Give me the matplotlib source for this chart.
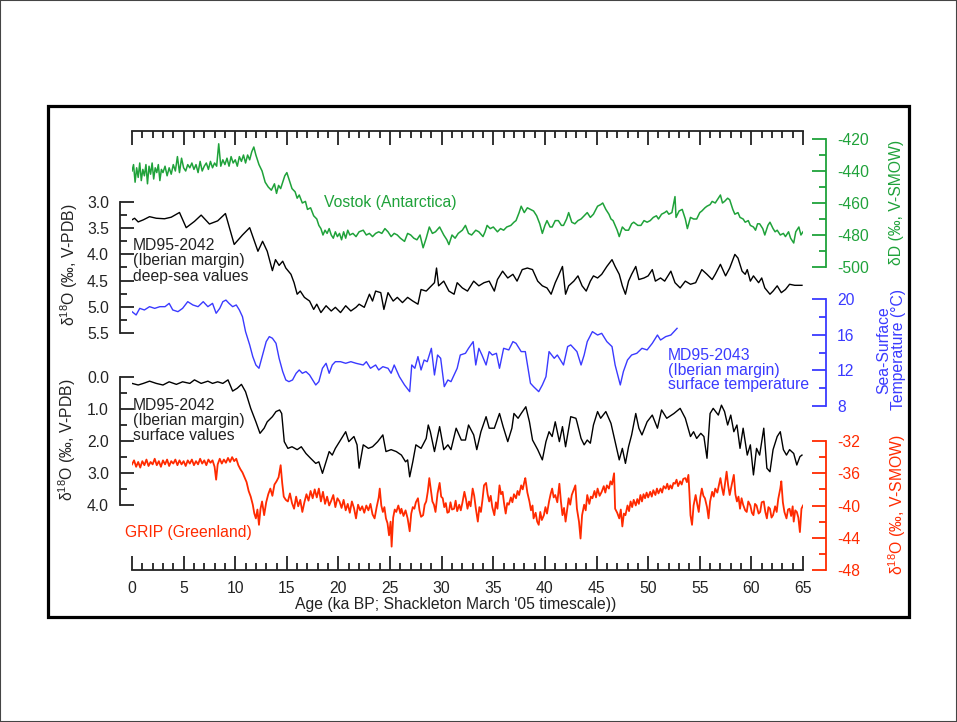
"""Stacked palaeoclimate records, 0-65 ka (Vostok, MD95-2042/2043, GRIP)."""

import matplotlib
matplotlib.use("Agg")
import matplotlib.pyplot as plt
import numpy as np
from matplotlib.patches import Rectangle

plt.rcParams["font.family"] = ["Liberation Sans", "DejaVu Sans"]
plt.rcParams["mathtext.default"] = "regular"

# --- data (age ka BP, value) ---
vostok = [
    (0.0, -440), (0.15, -436), (0.3, -447), (0.45, -438), (0.6, -444), (0.75, -435), (0.9, -446),
    (1.05, -439), (1.2, -443), (1.35, -436), (1.5, -448), (1.65, -437), (1.8, -442), (1.95, -435),
    (2.1, -445), (2.25, -438), (2.4, -441), (2.55, -436), (2.7, -446), (2.85, -439), (3.0, -441),
    (3.2, -437), (3.4, -443), (3.6, -438), (3.8, -442), (4.0, -436), (4.2, -440), (4.4, -431),
    (4.6, -441), (4.8, -432), (5.0, -438), (5.2, -440), (5.4, -436), (5.6, -438), (5.8, -435),
    (6.0, -439), (6.2, -436), (6.4, -441), (6.6, -434), (6.8, -440), (7.0, -437), (7.2, -435),
    (7.4, -439), (7.6, -434), (7.8, -438), (8.0, -435), (8.2, -437), (8.4, -423), (8.6, -437),
    (8.8, -433), (9.0, -436), (9.2, -432), (9.4, -437), (9.6, -431), (9.8, -435), (10.0, -433),
    (10.2, -437), (10.4, -431), (10.6, -434), (10.8, -430), (11.0, -435), (11.2, -430), (11.4, -433),
    (11.6, -428), (11.8, -425), (12.0, -430), (12.3, -436), (12.6, -440), (12.9, -447), (13.2, -450),
    (13.5, -452), (13.8, -448), (14.0, -454), (14.2, -449), (14.4, -451), (14.6, -447), (14.8, -443),
    (15.0, -441), (15.2, -445), (15.5, -451), (15.8, -453), (16.0, -457), (16.2, -455), (16.5, -460),
    (16.8, -459), (17.0, -464), (17.3, -463), (17.6, -468), (17.9, -470), (18.1, -474), (18.3, -476),
    (18.5, -480), (18.7, -477), (18.9, -479), (19.1, -476), (19.3, -480), (19.5, -482), (19.7, -478),
    (19.9, -481), (20.1, -479), (20.3, -483), (20.5, -478), (20.7, -482), (20.9, -477), (21.1, -480),
    (21.4, -479), (21.7, -481), (22.0, -478), (22.4, -477), (22.7, -480), (23.0, -479), (23.3, -481),
    (23.6, -479), (23.9, -478), (24.2, -479), (24.5, -476), (24.8, -478), (25.1, -481), (25.4, -479),
    (25.7, -480), (26.0, -482), (26.4, -484), (26.7, -479), (27.0, -480), (27.3, -482), (27.6, -483),
    (27.9, -480), (28.2, -488), (28.5, -482), (28.8, -475), (29.1, -479), (29.4, -478), (29.8, -475),
    (30.2, -480), (30.5, -483), (30.7, -486), (31.0, -480), (31.3, -482), (31.6, -479), (32.0, -477),
    (32.3, -474), (32.6, -479), (32.9, -480), (33.3, -477), (33.6, -478), (34.0, -481), (34.2, -478),
    (34.4, -474), (34.7, -476), (35.0, -475), (35.4, -478), (35.7, -476), (36.0, -477), (36.3, -475),
    (36.7, -474), (37.0, -472), (37.2, -471), (37.5, -466), (37.7, -462), (38.0, -466), (38.3, -463),
    (38.6, -464), (38.9, -465), (39.2, -468), (39.5, -473), (39.75, -479), (40.0, -474), (40.2, -471),
    (40.5, -475), (40.7, -475), (41.0, -471), (41.3, -471), (41.6, -474), (41.8, -474), (42.1, -470),
    (42.3, -466), (42.6, -472), (42.9, -473), (43.2, -471), (43.5, -470), (43.8, -468), (44.1, -466),
    (44.4, -469), (44.7, -467), (45.1, -462), (45.4, -461), (45.6, -460), (45.9, -464), (46.2, -467),
    (46.4, -470), (46.6, -471), (46.8, -474), (47.0, -477), (47.2, -481), (47.5, -475), (47.8, -477),
    (48.1, -477), (48.4, -473), (48.6, -472), (49.0, -474), (49.3, -474), (49.6, -471), (49.9, -472),
    (50.2, -471), (50.5, -469), (50.8, -468), (51.0, -470), (51.3, -467), (51.6, -466), (51.8, -465),
    (52.0, -467), (52.3, -466), (52.6, -456), (52.7, -469), (53.0, -465), (53.3, -464), (53.6, -470),
    (53.8, -476), (54.1, -469), (54.4, -470), (54.7, -470), (55.0, -466), (55.2, -465), (55.5, -463),
    (55.7, -462), (56.0, -461), (56.2, -459), (56.5, -460), (56.7, -458), (57.0, -455), (57.2, -460),
    (57.4, -459), (57.7, -457), (57.9, -458), (58.2, -464), (58.4, -467), (58.7, -466), (58.9, -469),
    (59.2, -470), (59.4, -472), (59.7, -471), (59.9, -474), (60.2, -475), (60.4, -477), (60.6, -473),
    (60.8, -473), (61.1, -476), (61.3, -480), (61.6, -474), (61.8, -472), (62.1, -476), (62.3, -478),
    (62.5, -477), (62.8, -480), (63.1, -479), (63.3, -481), (63.6, -478), (63.8, -482), (64.1, -485),
    (64.3, -478), (64.6, -475), (64.8, -480), (65.0, -478),
]

deep_sea = [
    (0.0, 3.34), (0.25, 3.31), (0.6, 3.38), (1.1, 3.34), (1.7, 3.28), (2.35, 3.31), (3.15, 3.32),
    (3.8, 3.29), (4.6, 3.20), (5.25, 3.49), (6.05, 3.37), (6.7, 3.25), (7.5, 3.42), (8.3, 3.36),
    (9.05, 3.22), (9.9, 3.81), (10.7, 3.63), (11.4, 3.49), (12.2, 3.94), (12.65, 3.75), (13.1, 3.94),
    (13.6, 4.31), (13.9, 4.10), (14.25, 4.21), (14.6, 4.13), (14.9, 4.26), (15.4, 4.38), (15.7, 4.54),
    (16.0, 4.76), (16.3, 4.70), (16.7, 4.82), (17.2, 4.89), (17.6, 5.05), (17.9, 4.95), (18.3, 5.11),
    (18.8, 4.98), (19.3, 5.08), (19.7, 5.01), (20.2, 5.11), (20.7, 4.98), (21.2, 5.08), (21.7, 5.01),
    (22.0, 4.95), (22.5, 5.01), (23.0, 4.76), (23.3, 4.89), (23.6, 4.70), (24.1, 4.73), (24.4, 5.05),
    (24.8, 4.73), (25.3, 4.89), (25.7, 4.82), (26.2, 4.92), (26.7, 4.82), (27.2, 4.89), (27.7, 4.95),
    (28.0, 4.67), (28.5, 4.70), (29.0, 4.60), (29.3, 4.54), (29.5, 4.26), (29.7, 4.60), (30.2, 4.51),
    (30.7, 4.70), (31.2, 4.76), (31.5, 4.54), (32.0, 4.64), (32.5, 4.70), (33.1, 4.51), (33.6, 4.60),
    (34.1, 4.54), (34.6, 4.51), (35.1, 4.70), (35.4, 4.48), (35.9, 4.32), (36.4, 4.45), (36.9, 4.38),
    (37.3, 4.51), (37.8, 4.29), (38.3, 4.26), (38.8, 4.29), (39.3, 4.51), (39.75, 4.60), (40.2, 4.64),
    (40.6, 4.76), (41.0, 4.54), (41.3, 4.41), (41.7, 4.23), (42.0, 4.76), (42.3, 4.60), (42.8, 4.51),
    (43.2, 4.41), (43.6, 4.60), (44.0, 4.70), (44.4, 4.51), (44.7, 4.41), (45.1, 4.45), (45.5, 4.38),
    (46.0, 4.23), (46.5, 4.10), (46.8, 4.23), (47.2, 4.38), (47.5, 4.60), (47.8, 4.76), (48.1, 4.51),
    (48.4, 4.38), (48.8, 4.23), (49.1, 4.48), (49.6, 4.45), (50.0, 4.41), (50.4, 4.29), (50.7, 4.51),
    (51.2, 4.45), (51.6, 4.51), (52.2, 4.32), (52.6, 4.54), (53.1, 4.64), (53.6, 4.51), (54.1, 4.57),
    (54.6, 4.54), (55.2, 4.29), (55.7, 4.38), (56.2, 4.48), (56.5, 4.38), (57.0, 4.19), (57.5, 4.41),
    (57.9, 4.26), (58.4, 4.00), (58.7, 4.07), (59.1, 4.32), (59.4, 4.38), (59.6, 4.29), (59.9, 4.51),
    (60.2, 4.41), (60.7, 4.54), (61.0, 4.45), (61.3, 4.64), (61.8, 4.76), (62.1, 4.70), (62.5, 4.60),
    (62.9, 4.73), (63.3, 4.67), (63.7, 4.57), (64.2, 4.59), (64.9, 4.59),
]

sst = [
    (0.0, 18.58), (0.4, 18.21), (0.75, 18.95), (1.2, 18.77), (1.7, 19.14), (2.2, 18.95), (2.7, 19.14),
    (3.2, 19.14), (3.6, 19.51), (3.95, 18.77), (4.45, 18.58), (4.9, 18.95), (5.4, 19.70), (5.9, 19.33),
    (6.4, 19.14), (6.9, 19.70), (7.35, 19.14), (7.8, 19.51), (8.15, 18.40), (8.5, 18.95), (8.8, 19.70),
    (9.1, 19.88), (9.4, 19.51), (9.75, 19.14), (10.1, 19.33), (10.4, 18.77), (10.7, 18.02), (11.0, 16.34),
    (11.4, 14.85), (11.7, 13.54), (12.0, 12.60), (12.3, 12.23), (12.65, 13.72), (13.0, 15.22),
    (13.3, 15.78), (13.6, 15.60), (13.95, 15.03), (14.25, 13.35), (14.6, 11.86), (14.9, 10.92),
    (15.2, 10.73), (15.55, 10.92), (15.9, 11.67), (16.2, 12.04), (16.5, 11.67), (16.85, 11.86),
    (17.2, 11.48), (17.5, 10.92), (17.8, 10.36), (18.1, 10.73), (18.45, 12.23), (18.8, 12.79),
    (19.1, 11.67), (19.4, 12.60), (19.7, 12.97), (20.2, 12.97), (20.7, 12.79), (21.2, 12.97),
    (21.7, 12.79), (22.4, 12.60), (22.7, 12.97), (23.1, 12.23), (23.6, 12.60), (23.9, 12.04),
    (24.3, 12.41), (24.8, 12.23), (25.1, 11.67), (25.4, 12.60), (25.9, 11.29), (26.4, 10.36),
    (26.9, 9.61), (27.1, 12.60), (27.4, 12.23), (27.7, 13.54), (28.0, 12.04), (28.3, 13.16),
    (28.6, 12.97), (29.0, 14.47), (29.3, 11.48), (29.6, 13.72), (29.9, 13.35), (30.25, 10.17),
    (30.6, 10.92), (30.9, 10.73), (31.2, 11.48), (31.5, 12.23), (31.8, 13.72), (32.3, 13.91),
    (32.6, 14.47), (33.05, 15.22), (33.3, 12.60), (33.6, 14.47), (33.9, 13.72), (34.3, 12.60),
    (34.6, 14.10), (34.9, 13.72), (35.3, 13.91), (35.6, 12.23), (36.0, 14.47), (36.5, 14.29),
    (36.9, 15.22), (37.2, 15.03), (37.7, 14.10), (38.1, 14.10), (38.6, 10.55), (38.9, 10.17),
    (39.4, 9.61), (39.75, 10.36), (40.1, 11.29), (40.4, 14.10), (40.9, 13.35), (41.2, 13.72),
    (41.5, 13.16), (41.8, 12.60), (42.2, 14.66), (42.5, 14.85), (42.8, 14.47), (43.1, 14.10),
    (43.5, 12.60), (43.8, 13.72), (44.1, 15.22), (44.6, 16.34), (45.1, 15.96), (45.5, 16.15),
    (46.0, 15.22), (46.5, 14.66), (46.8, 12.60), (47.3, 10.36), (47.6, 11.86), (48.0, 13.16),
    (48.4, 13.72), (48.9, 13.91), (49.4, 14.47), (49.9, 14.29), (50.4, 15.03), (50.9, 15.96),
    (51.2, 15.40), (51.7, 15.78), (52.2, 15.96), (52.8, 16.71),
]

surface = [
    (0.0, 0.20), (0.6, 0.25), (1.1, 0.20), (1.7, 0.13), (2.35, 0.20), (3.0, 0.25), (3.6, 0.15),
    (4.3, 0.23), (4.9, 0.15), (5.6, 0.20), (6.05, 0.09), (6.7, 0.20), (7.35, 0.13), (7.8, 0.20),
    (8.3, 0.15), (8.8, 0.20), (9.3, 0.09), (9.75, 0.44), (10.2, 0.35), (10.6, 0.23), (11.0, 0.46),
    (11.5, 0.98), (12.0, 1.40), (12.4, 1.76), (12.8, 1.60), (13.1, 1.40), (13.6, 1.24), (13.95, 1.08),
    (14.3, 1.03), (14.5, 1.14), (14.75, 2.02), (15.1, 2.23), (15.5, 2.18), (16.0, 2.27), (16.4, 2.18),
    (16.85, 2.39), (17.3, 2.54), (17.8, 2.70), (18.1, 2.65), (18.45, 3.01), (18.8, 2.65), (19.1, 2.33),
    (19.4, 2.44), (19.7, 2.23), (20.2, 1.97), (20.7, 1.71), (21.0, 2.02), (21.5, 1.86), (21.8, 2.12),
    (22.0, 2.85), (22.4, 2.12), (22.9, 2.23), (23.3, 2.18), (23.8, 2.02), (24.3, 1.81), (24.6, 2.33),
    (25.1, 2.27), (25.6, 2.33), (26.1, 2.44), (26.5, 2.65), (26.7, 2.59), (26.9, 3.12), (27.2, 2.65),
    (27.5, 2.12), (28.0, 2.23), (28.5, 1.92), (28.7, 1.50), (28.9, 1.71), (29.3, 2.33), (29.6, 1.86),
    (29.8, 1.55), (30.2, 2.27), (30.6, 2.12), (30.9, 2.27), (31.4, 1.60), (31.9, 1.97), (32.3, 1.97),
    (32.6, 1.50), (33.1, 1.81), (33.4, 2.27), (33.8, 1.71), (34.3, 1.24), (34.6, 1.60), (35.1, 1.60),
    (35.6, 1.14), (35.95, 1.55), (36.4, 2.02), (36.8, 1.60), (37.0, 1.14), (37.4, 1.29), (37.7, 1.14),
    (38.15, 0.93), (38.5, 1.40), (38.8, 1.97), (39.3, 2.27), (39.75, 2.59), (40.1, 2.02), (40.4, 1.71),
    (40.7, 1.86), (41.0, 1.40), (41.4, 2.02), (41.7, 1.55), (42.0, 2.18), (42.5, 1.24), (43.0, 1.29),
    (43.1, 1.40), (43.5, 1.92), (43.8, 2.12), (44.1, 1.97), (44.4, 2.07), (44.7, 1.50), (45.1, 1.08),
    (45.4, 1.29), (45.9, 1.08), (46.4, 1.45), (46.8, 2.02), (47.2, 2.59), (47.5, 2.23), (47.8, 2.70),
    (48.1, 2.18), (48.4, 1.81), (48.8, 1.14), (49.1, 1.60), (49.4, 1.81), (49.9, 1.40), (50.4, 1.19),
    (50.9, 1.60), (51.3, 1.03), (51.8, 1.29), (52.5, 1.14), (53.1, 0.98), (53.6, 1.29), (54.1, 1.86),
    (54.4, 1.71), (54.7, 1.92), (55.1, 1.76), (55.4, 1.86), (55.7, 2.54), (56.0, 1.14), (56.3, 0.98),
    (56.8, 1.19), (57.1, 0.88), (57.4, 1.08), (57.7, 1.50), (58.0, 1.19), (58.3, 1.71), (58.6, 1.50),
    (58.9, 2.23), (59.2, 1.60), (59.6, 2.44), (59.9, 2.12), (60.2, 3.06), (60.5, 2.23), (60.8, 2.44),
    (61.2, 1.60), (61.5, 2.85), (61.8, 2.96), (62.1, 2.27), (62.5, 1.86), (62.8, 1.71), (63.1, 2.27),
    (63.4, 2.44), (63.7, 2.27), (64.1, 2.39), (64.4, 2.75), (64.7, 2.49), (64.9, 2.44),
]

grip = [
    (0.0, -34.9), (0.2, -34.4), (0.4, -35.2), (0.6, -34.6), (0.8, -35.3), (1.0, -34.5), (1.2, -35.0),
    (1.4, -34.3), (1.6, -35.1), (1.8, -34.6), (2.0, -34.9), (2.2, -34.2), (2.4, -35.0), (2.6, -34.5),
    (2.8, -35.2), (3.0, -34.4), (3.2, -34.9), (3.4, -34.3), (3.6, -35.1), (3.8, -34.5), (4.0, -34.8),
    (4.2, -34.3), (4.4, -35.0), (4.6, -34.4), (4.8, -34.9), (5.0, -34.5), (5.2, -35.1), (5.4, -34.4),
    (5.6, -34.8), (5.8, -34.3), (6.0, -35.0), (6.2, -34.5), (6.4, -34.9), (6.6, -34.2), (6.8, -34.8),
    (7.0, -34.4), (7.2, -35.0), (7.4, -34.3), (7.6, -34.7), (7.8, -34.4), (8.0, -35.2), (8.15, -36.8),
    (8.3, -34.9), (8.5, -34.2), (8.7, -34.8), (8.9, -34.3), (9.1, -34.7), (9.3, -34.1), (9.5, -34.6),
    (9.7, -34.0), (9.9, -34.5), (10.1, -34.2), (10.3, -35.0), (10.5, -35.5), (10.7, -35.9),
    (10.9, -36.5), (11.1, -37.1), (11.3, -38.2), (11.5, -38.9), (11.7, -39.9), (11.85, -41.0),
    (12.0, -41.6), (12.15, -40.5), (12.3, -42.4), (12.45, -40.4), (12.6, -39.5), (12.8, -41.2),
    (13.0, -39.6), (13.2, -38.6), (13.4, -37.9), (13.6, -38.8), (13.8, -37.4), (14.0, -37.0),
    (14.2, -36.5), (14.4, -35.0), (14.55, -37.2), (14.7, -38.9), (14.9, -39.3), (15.1, -39.5),
    (15.3, -38.5), (15.5, -39.7), (15.7, -40.4), (15.9, -38.9), (16.1, -40.1), (16.3, -39.3),
    (16.5, -40.8), (16.7, -39.6), (16.9, -38.6), (17.1, -39.4), (17.3, -38.2), (17.5, -39.1),
    (17.7, -38.0), (17.9, -39.0), (18.1, -37.9), (18.3, -39.5), (18.5, -38.3), (18.7, -39.8),
    (18.9, -38.9), (19.1, -40.0), (19.3, -39.4), (19.5, -38.7), (19.7, -40.2), (19.9, -39.1),
    (20.1, -39.5), (20.3, -40.3), (20.5, -39.3), (20.7, -40.6), (20.9, -39.8), (21.1, -40.9),
    (21.3, -39.5), (21.5, -40.3), (21.7, -41.6), (21.9, -39.9), (22.1, -40.6), (22.3, -40.1),
    (22.5, -40.9), (22.7, -40.0), (22.9, -40.6), (23.1, -39.8), (23.3, -41.1), (23.5, -41.6),
    (23.7, -40.2), (23.9, -39.0), (24.0, -37.9), (24.15, -40.0), (24.3, -40.8), (24.45, -40.2),
    (24.6, -41.6), (24.75, -42.2), (24.9, -43.7), (25.05, -42.0), (25.15, -45.1), (25.3, -41.5),
    (25.45, -40.5), (25.6, -40.8), (25.8, -40.0), (26.0, -41.0), (26.1, -40.4), (26.3, -41.3),
    (26.5, -40.6), (26.7, -41.6), (26.9, -43.2), (27.05, -41.0), (27.2, -40.2), (27.35, -40.4),
    (27.5, -39.6), (27.7, -39.1), (27.85, -40.6), (28.0, -41.4), (28.2, -41.2), (28.35, -39.9),
    (28.5, -39.5), (28.65, -38.3), (28.8, -36.6), (28.95, -38.1), (29.1, -39.5), (29.25, -39.9),
    (29.4, -40.8), (29.6, -38.5), (29.8, -37.2), (29.95, -38.9), (30.1, -39.1), (30.25, -40.2),
    (30.4, -39.7), (30.55, -40.9), (30.7, -40.8), (30.85, -39.6), (31.0, -40.5), (31.2, -40.4),
    (31.35, -39.4), (31.5, -40.7), (31.7, -39.9), (31.85, -40.6), (32.0, -39.7), (32.2, -38.3),
    (32.35, -39.2), (32.5, -40.4), (32.65, -39.5), (32.8, -40.1), (33.0, -37.9), (33.15, -38.8),
    (33.3, -40.3), (33.5, -42.0), (33.65, -40.2), (33.8, -40.8), (33.95, -39.3), (34.1, -37.5),
    (34.3, -37.2), (34.45, -38.6), (34.6, -39.5), (34.75, -38.8), (34.9, -40.2), (35.1, -41.2),
    (35.25, -39.6), (35.4, -40.4), (35.6, -37.5), (35.75, -38.6), (35.9, -38.3), (36.05, -39.8),
    (36.2, -41.0), (36.35, -39.7), (36.5, -39.9), (36.7, -39.0), (36.85, -39.6), (37.0, -38.6),
    (37.2, -39.1), (37.35, -38.2), (37.5, -38.7), (37.7, -37.5), (37.85, -38.0), (38.0, -37.1),
    (38.1, -36.6), (38.3, -38.4), (38.5, -39.5), (38.65, -40.6), (38.8, -40.0), (38.9, -41.6),
    (39.1, -40.9), (39.25, -42.0), (39.4, -42.4), (39.55, -40.8), (39.7, -41.8), (39.9, -41.2),
    (40.05, -40.2), (40.2, -41.0), (40.4, -39.5), (40.55, -38.6), (40.7, -37.9), (40.85, -39.0),
    (41.0, -38.7), (41.2, -39.6), (41.4, -37.3), (41.55, -39.5), (41.7, -41.2), (41.85, -40.3),
    (42.0, -42.0), (42.15, -40.6), (42.3, -39.1), (42.45, -39.9), (42.6, -38.7), (42.8, -38.0),
    (42.95, -37.5), (43.1, -40.4), (43.3, -42.0), (43.45, -44.1), (43.6, -41.2), (43.8, -39.9),
    (43.95, -40.6), (44.1, -38.7), (44.3, -39.8), (44.45, -38.9), (44.6, -39.1), (44.8, -38.2),
    (44.95, -39.0), (45.1, -37.9), (45.3, -38.8), (45.5, -38.3), (45.7, -37.6), (45.85, -38.4),
    (46.0, -37.5), (46.2, -37.9), (46.35, -37.0), (46.5, -37.4), (46.7, -36.0), (46.8, -40.4),
    (47.0, -40.9), (47.2, -41.6), (47.35, -40.5), (47.5, -42.6), (47.65, -41.0), (47.8, -41.2),
    (48.0, -40.0), (48.15, -40.7), (48.3, -39.5), (48.45, -40.2), (48.6, -39.3), (48.8, -40.0),
    (48.95, -39.2), (49.1, -39.8), (49.25, -38.7), (49.4, -39.5), (49.55, -38.6), (49.7, -39.1),
    (49.85, -38.4), (50.0, -39.0), (50.2, -38.3), (50.35, -38.9), (50.5, -38.1), (50.7, -38.7),
    (50.85, -37.9), (51.0, -38.5), (51.2, -37.9), (51.35, -38.4), (51.5, -37.6), (51.7, -37.9),
    (51.85, -37.3), (52.0, -38.0), (52.15, -37.5), (52.3, -37.9), (52.45, -37.2), (52.6, -37.3),
    (52.75, -36.8), (52.9, -37.6), (53.1, -37.0), (53.25, -37.4), (53.4, -36.7), (53.6, -36.6),
    (53.75, -37.1), (53.9, -36.2), (54.0, -38.5), (54.1, -41.2), (54.25, -42.4), (54.4, -40.0),
    (54.6, -38.7), (54.75, -39.8), (54.9, -40.8), (55.05, -39.0), (55.2, -37.9), (55.35, -38.8),
    (55.5, -39.1), (55.7, -40.2), (55.85, -41.6), (56.0, -39.5), (56.2, -38.3), (56.35, -38.9),
    (56.5, -37.9), (56.7, -38.4), (56.85, -37.5), (57.0, -36.6), (57.15, -37.8), (57.3, -38.7),
    (57.45, -37.2), (57.6, -35.8), (57.75, -37.5), (57.9, -38.7), (58.1, -37.4), (58.3, -36.2),
    (58.45, -38.6), (58.6, -39.5), (58.75, -38.9), (58.9, -40.4), (59.05, -39.1), (59.2, -39.9),
    (59.4, -40.6), (59.55, -40.8), (59.7, -39.5), (59.9, -40.0), (60.05, -40.9), (60.2, -41.2),
    (60.35, -39.8), (60.5, -40.0), (60.7, -41.0), (60.85, -40.8), (61.0, -39.6), (61.2, -39.5),
    (61.35, -40.8), (61.5, -41.6), (61.65, -40.2), (61.8, -40.4), (61.95, -41.5), (62.1, -41.2),
    (62.3, -40.1), (62.45, -40.8), (62.6, -39.2), (62.8, -37.9), (62.9, -37.0), (63.05, -39.6),
    (63.2, -40.8), (63.4, -41.6), (63.55, -40.5), (63.7, -40.4), (63.85, -41.3), (64.0, -40.1),
    (64.1, -42.0), (64.25, -40.6), (64.4, -40.8), (64.55, -41.5), (64.7, -43.3), (64.85, -40.4),
    (65.0, -40.0),
]

age_ticks = list(range(0, 70, 5))

GREEN = "#1fa23a"
BLUE = "#3a3aff"
RED = "#ff2a00"
DARK = "#222222"
FS = 11.3

# --- layout in pixels of a 957x722 canvas ---
W, H = 957, 722
L, R, T, B = 132, 803, 131, 570
LEFT_SPINE = (120 - L) / (R - L)
RIGHT_SPINE = (826 - L) / (R - L)

fig = plt.figure(figsize=(W / 100, H / 100), dpi=100)
rect = [L / W, 1 - B / H, (R - L) / W, (B - T) / H]


def fx(x):
    return x / W


def fy(y):
    return 1 - y / H


def new_axes(v1, p1, v2, p2):
    """Axes covering the full plot area, scaled so v1 sits at pixel row p1 and v2 at p2."""
    ax = fig.add_axes(rect)
    f = lambda p: v1 + (p - p1) * (v2 - v1) / (p2 - p1)
    ax.set_xlim(0, 65)
    ax.set_ylim(f(B), f(T))
    ax.patch.set_visible(False)
    for s in ax.spines.values():
        s.set_visible(False)
    ax.set_xticks([])
    return ax


def style_y(ax, side, lo, hi, major, minor, labels, color, lab_color):
    sp = ax.spines[side]
    sp.set_visible(True)
    sp.set_position(("axes", LEFT_SPINE if side == "left" else RIGHT_SPINE))
    sp.set_bounds(lo, hi)
    sp.set_color(color)
    sp.set_linewidth(1.3)
    ax.yaxis.set_ticks_position(side)
    ax.set_yticks(major, labels=labels)
    ax.set_yticks(minor, minor=True)
    ax.tick_params(axis="y", which="both", direction="in", color=color, width=1.3,
                   labelcolor=lab_color, labelsize=FS, pad=8)
    ax.tick_params(axis="y", which="major", length=10)
    ax.tick_params(axis="y", which="minor", length=5)


# base axes: age axis at bottom and top
ax0 = fig.add_axes(rect)
ax0.set_xlim(0, 65)
ax0.set_ylim(0, 1)
ax0.patch.set_visible(False)
ax0.spines["left"].set_visible(False)
ax0.spines["right"].set_visible(False)
for s in ("top", "bottom"):
    ax0.spines[s].set_linewidth(1.3)
    ax0.spines[s].set_color(DARK)
ax0.set_yticks([])
ax0.set_xticks(age_ticks, labels=[str(a) for a in age_ticks])
ax0.set_xticks(range(0, 66), minor=True)
ax0.tick_params(axis="x", which="both", direction="in", top=True, bottom=True,
                labeltop=False, width=1.3, color=DARK, labelcolor=DARK, labelsize=FS, pad=8)
ax0.tick_params(axis="x", which="major", length=10)
ax0.tick_params(axis="x", which="minor", length=5)

# Vostok dD (right, green)
ax_v = new_axes(-420, 139, -500, 267)
a, v = np.array(vostok).T
ax_v.plot(a, v, color=GREEN, lw=1.1)
style_y(ax_v, "right", -500, -420, [-420, -440, -460, -480, -500], [-430, -450, -470, -490],
        ["-420", "-440", "-460", "-480", "-500"], GREEN, GREEN)

# MD95-2042 deep-sea d18O (left, black, inverted)
ax_d = new_axes(3.0, 202, 5.5, 333)
a, v = np.array(deep_sea).T
ax_d.plot(a, v, color="black", lw=1.0)
style_y(ax_d, "left", 3.0, 5.5, [3.0, 3.5, 4.0, 4.5, 5.0, 5.5], [3.25, 3.75, 4.25, 4.75, 5.25],
        ["3.0", "3.5", "4.0", "4.5", "5.0", "5.5"], DARK, DARK)

# MD95-2043 SST (right, blue)
ax_s = new_axes(20, 299, 8, 406)
a, v = np.array(sst).T
ax_s.plot(a, v, color=BLUE, lw=1.0)
style_y(ax_s, "right", 8, 20, [8, 12, 16, 20], [10, 14, 18],
        ["8", "12", "16", "20"], BLUE, BLUE)

# MD95-2042 surface d18O (left, black, inverted)
ax_p = new_axes(0.0, 377, 4.0, 505)
a, v = np.array(surface).T
ax_p.plot(a, v, color="black", lw=1.0)
style_y(ax_p, "left", 0.0, 4.0, [0.0, 1.0, 2.0, 3.0, 4.0], [0.5, 1.5, 2.5, 3.5],
        ["0.0", "1.0", "2.0", "3.0", "4.0"], DARK, DARK)

# GRIP d18O (right, red)
ax_g = new_axes(-32, 441, -48, 570)
a, v = np.array(grip).T
ax_g.plot(a, v, color=RED, lw=1.3)
style_y(ax_g, "right", -48, -32, [-32, -36, -40, -44, -48], [-34, -38, -42, -46],
        ["-32", "-36", "-40", "-44", "-48"], RED, RED)

# axis titles
fig.text(fx(456), fy(605), "Age (ka BP; Shackleton March '05 timescale))", ha="center", va="center",
         fontsize=FS, color=DARK)
fig.text(fx(69), fy(265), r"δ$^{18}$O (‰, V-PDB)", rotation=90, ha="center", va="center",
         fontsize=FS, color=DARK)
fig.text(fx(67), fy(440), r"δ$^{18}$O (‰, V-PDB)", rotation=90, ha="center", va="center",
         fontsize=FS, color=DARK)
fig.text(fx(897), fy(202), "δD (‰, V-SMOW)", rotation=90, ha="center", va="center",
         fontsize=FS, color=GREEN)
fig.text(fx(891), fy(350), "Sea-Surface\nTemperature (°C)", rotation=90, ha="center", va="center",
         fontsize=FS, color=BLUE, linespacing=1.0)
fig.text(fx(897), fy(505), r"δ$^{18}$O (‰, V-SMOW)", rotation=90, ha="center", va="center",
         fontsize=FS, color=RED)

# series annotations
fig.text(fx(324), fy(203), "Vostok (Antarctica)", ha="left", va="center", fontsize=FS, color=GREEN)
fig.text(fx(133), fy(261), "MD95-2042\n(Iberian margin)\ndeep-sea values", ha="left", va="center",
         fontsize=FS, color=DARK, linespacing=1.0)
fig.text(fx(668), fy(370), "MD95-2043\n(Iberian margin)\nsurface temperature", ha="left", va="center",
         fontsize=FS, color=BLUE, linespacing=1.0)
fig.text(fx(133), fy(421), "MD95-2042\n(Iberian margin)\nsurface values", ha="left", va="center",
         fontsize=FS, color=DARK, linespacing=1.0)
fig.text(fx(125), fy(532), "GRIP (Greenland)", ha="left", va="center", fontsize=FS, color=RED)

# frames: thin page border and thick panel box
fig.patches.append(Rectangle((0, 0), 1, 1, transform=fig.transFigure, fill=False,
                             ec="#444444", lw=1.5))
fig.patches.append(Rectangle((fx(47.5), fy(616.5)), fx(909) - fx(47.5), fy(105.5) - fy(616.5),
                             transform=fig.transFigure, fill=False, ec="black", lw=2.3))

fig.savefig("out.png", dpi=100)
